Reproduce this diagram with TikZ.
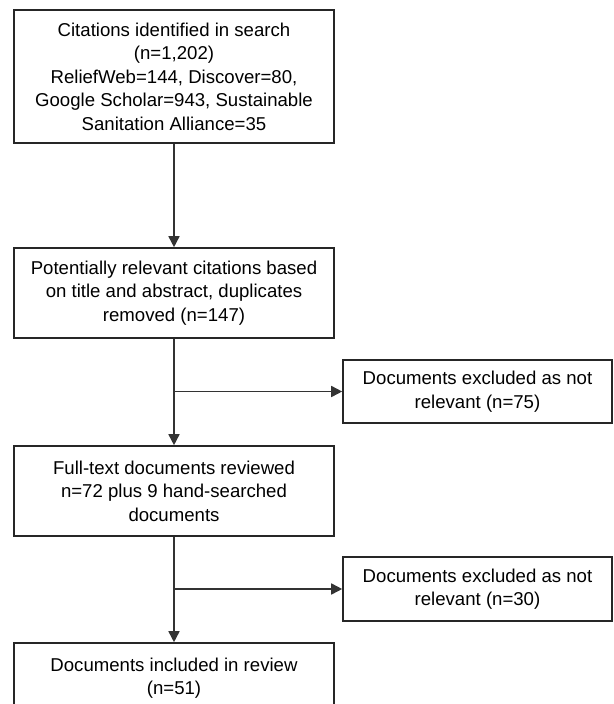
\documentclass[tikz,border=0pt]{standalone}
\usepackage{fontspec}
\setmainfont{Liberation Sans}
\usetikzlibrary{arrows.meta}
\begin{document}
\begin{tikzpicture}[x=1pt,y=-1pt,
  box/.style={draw=black!85,line width=1.6pt,rectangle,align=center,inner sep=0pt,
    font=\fontsize{18.6}{23.5}\selectfont},
  arr/.style={draw=black!80,line width=1.6pt,-{Triangle[length=11pt,width=11pt]}}]
\useasboundingbox (0,0) rectangle (613,704);
\node[box,minimum width=320pt,minimum height=133pt] (b1) at (174,76.5)
  {Citations identified in search\\(n=1,202)\\ReliefWeb=144, Discover=80,\\Google Scholar=943, Sustainable\\Sanitation Alliance=35};
\node[box,minimum width=320pt,minimum height=90pt] (b2) at (174,293)
  {Potentially relevant citations based\\on title and abstract, duplicates\\removed (n=147)};
\node[box,minimum width=269pt,minimum height=63pt] (r1) at (477.5,391.5)
  {Documents excluded as not\\relevant (n=75)};
\node[box,minimum width=320pt,minimum height=90pt] (b3) at (174,491)
  {Full-text documents reviewed\\n=72 plus 9 hand-searched\\documents};
\node[box,minimum width=269pt,minimum height=64pt] (r2) at (477.5,589)
  {Documents excluded as not\\relevant (n=30)};
\node[box,minimum width=320pt,minimum height=70pt] (b4) at (174,678)
  {Documents included in review\\(n=51)};
\draw[arr] (b1.south) -- (b2.north);
\draw[arr] (b2.south) -- (b3.north);
\coordinate (j1) at (b2.south |- r1.west);
\draw[arr] (j1) -- (r1.west);
\draw[arr] (b3.south) -- (b4.north);
\coordinate (j2) at (b3.south |- r2.west);
\draw[arr] (j2) -- (r2.west);
\end{tikzpicture}
\end{document}
